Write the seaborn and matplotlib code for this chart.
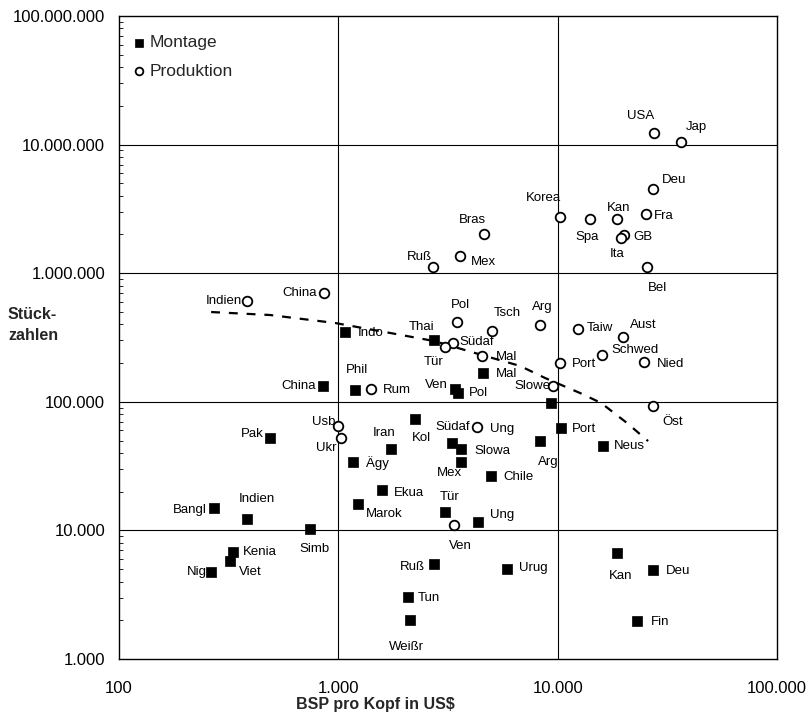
import numpy as np
import pandas as pd
import matplotlib
matplotlib.use("Agg")
import matplotlib.pyplot as plt
import matplotlib.ticker as mticker
import seaborn as sns

# ---------------- data ----------------
mont_names = ["China", "Indo", "Thai", "Mal", "Ven", "Pol", "Phil", "", "Port", "Neus",
              "Arg", "Kan", "Deu", "Fin", "Pak", "Bangl", "Indien", "Simb", "Kenia", "Viet",
              "Nig", "Kol", "Iran", "Ägy", "Südaf", "Slowa", "Mex", "Chile", "Ekua", "Marok",
              "Tür", "Ung", "Ruß", "Urug", "Tun", "Weißr"]
mont_bsp = [855, 1073, 2740, 4580, 3400, 3530, 1190, 9330, 10330, 16150,
            8310, 18700, 27300, 23080, 488, 271, 385, 743, 332, 321,
            262, 2240, 1740, 1170, 3310, 3630, 3610, 4970, 1580, 1225,
            3070, 4320, 2740, 5860, 2070, 2120]
mont_stk = [133000, 351000, 303000, 167000, 125000, 118000, 124000, 97500, 63000, 45300,
            49500, 6710, 4920, 1990, 52000, 14900, 12300, 10200, 6830, 5810,
            4770, 73100, 42700, 34200, 47500, 42700, 34200, 26500, 20600, 16000,
            14000, 11700, 5480, 4990, 3020, 2010]

prod_names = ["USA", "Jap", "Deu", "Korea", "Spa", "Kan", "Fra", "GB", "Ita", "Bras",
              "Mex", "Ruß", "Bel", "Indien", "China", "Pol", "Tsch", "Arg", "Südaf", "Tür",
              "Mal", "Slowe", "Port", "Taiw", "Aust", "Schwed", "Nied", "Öst", "Usb", "Ukr",
              "Rum", "Ung", "Ven"]
prod_bsp = [27500, 36400, 27150, 10250, 14060, 18600, 25230, 20140, 19400, 4630,
            3590, 2690, 25470, 385, 861, 3480, 5040, 8310, 3320, 3070,
            4540, 9530, 10250, 12350, 19940, 15880, 24850, 27150, 1000, 1025,
            1405, 4290, 3370]
prod_stk = [12200000, 10400000, 4490000, 2750000, 2620000, 2620000, 2870000, 1980000, 1870000, 2000000,
            1370000, 1120000, 1110000, 611000, 698000, 415000, 357000, 395000, 288000, 268000,
            228000, 133000, 199000, 366000, 321000, 231000, 203000, 92700, 64900, 52600,
            126000, 64000, 11000]

trend_bsp = [263, 488, 966, 1722, 2730, 4520, 6740, 8770, 12650, 15770, 20710, 25840]
trend_stk = [499000, 473000, 410000, 343000, 297000, 231000, 190000, 153000, 117000, 98000, 68400, 49500]

y_ticks = [1000, 10000, 100000, 1000000, 10000000, 100000000]
x_ticks = [100, 1000, 10000, 100000]

# ---------------- label layout (pixel offsets dx, dy-down, alignment) ----------------
mont_off = [(-8, 0, "right"), (13, 1, "left"), (-13, -13, "center"), (13, 1, "left"),
            (-7, -4, "right"), (10, 0, "left"), (2, -20, "center"), (0, 0, "left"),
            (11, 1, "left"), (11, 0, "left"), (8, 21, "center"), (3, 23, "center"),
            (13, 1, "left"), (14, 1, "left"), (-6, -4, "right"), (-7, 2, "right"),
            (9, -20, "center"), (4, 20, "center"), (10, 0, "left"), (9, 11, "left"),
            (-4, 0, "right"), (6, 19, "center"), (-7, -16, "center"), (13, 1, "left"),
            (0, -16, "center"), (13, 2, "left"), (-11, 11, "center"), (12, 1, "left"),
            (12, 3, "left"), (8, 10, "left"), (4, -15, "center"), (12, -7, "left"),
            (-9, 3, "right"), (12, -1, "left"), (10, 1, "left"), (-3, 27, "center")]
prod_off = [(-13, -17, "center"), (5, -15, "left"), (9, -9, "left"), (1, -19, "right"),
            (-3, 18, "center"), (2, -11, "center"), (8, 2, "left"), (9, 2, "left"),
            (-4, 16, "center"), (-12, -14, "center"), (11, 6, "left"), (-13, -10, "center"),
            (11, 21, "center"), (-5, 0, "right"), (-7, 0, "right"), (3, -17, "center"),
            (15, -18, "center"), (2, -18, "center"), (7, -1, "left"), (-12, 15, "center"),
            (13, 1, "left"), (-3, 0, "right"), (12, 1, "left"), (9, -1, "left"),
            (7, -12, "left"), (10, -5, "left"), (13, 2, "left"), (10, 16, "left"),
            (-3, -4, "right"), (-4, 10, "right"), (12, 1, "left"), (13, 2, "left"),
            (6, 21, "center")]

mont = pd.DataFrame({"name": mont_names, "bsp": mont_bsp, "stk": mont_stk})
prod = pd.DataFrame({"name": prod_names, "bsp": prod_bsp, "stk": prod_stk})
trend = pd.DataFrame({"bsp": trend_bsp, "stk": trend_stk})

sns.set_theme(style="white")
plt.rcParams["font.family"] = ["Liberation Sans", "DejaVu Sans"]

W, H = 809, 716
fig = plt.figure(figsize=(W / 100, H / 100), dpi=100)
ax = fig.add_axes([119 / W, 1 - 659 / H, (777 - 119) / W, (659 - 16) / H])

ax.set_xscale("log")
ax.set_yscale("log")
ax.set_xlim(100, 100000)
ax.set_ylim(1000, 100000000)

for v in x_ticks[1:-1]:
    ax.axvline(v, color="black", lw=0.8, zorder=1)
for v in y_ticks[1:-1]:
    ax.axhline(v, color="black", lw=0.8, zorder=1)

sns.lineplot(data=trend, x="bsp", y="stk", sort=False, ax=ax, color="black",
             lw=1.6, linestyle=(0, (4, 4)), zorder=2)

sns.scatterplot(data=mont, x="bsp", y="stk", ax=ax, marker="s", s=48,
                color="black", edgecolor="black", linewidth=0.5, zorder=3,
                label="Montage")
sns.scatterplot(data=prod, x="bsp", y="stk", ax=ax, marker="o", s=48,
                facecolor="white", edgecolor="black", linewidth=1.3, zorder=3,
                label="Produktion")

for df, offs in ((mont, mont_off), (prod, prod_off)):
    for (_, r), (dx, dy, ha) in zip(df.iterrows(), offs):
        if not r["name"]:
            continue
        ax.annotate(r["name"], (r["bsp"], r["stk"]), xytext=(dx, -dy),
                    textcoords="offset pixels", ha=ha, va="center",
                    fontsize=9.5, color="black", zorder=4)

fmt = mticker.FuncFormatter(lambda v, p: f"{int(round(v)):,}".replace(",", "."))
ax.xaxis.set_major_locator(mticker.FixedLocator(x_ticks))
ax.yaxis.set_major_locator(mticker.FixedLocator(y_ticks))
ax.xaxis.set_major_formatter(fmt)
ax.yaxis.set_major_formatter(fmt)
ax.xaxis.set_minor_locator(mticker.NullLocator())
ax.yaxis.set_minor_locator(mticker.LogLocator(base=10, subs=np.arange(2, 10)))
ax.yaxis.set_minor_formatter(mticker.NullFormatter())
ax.tick_params(axis="x", which="major", length=0, pad=16, labelsize=12, colors="black")
ax.tick_params(axis="y", which="major", length=0, pad=10, labelsize=12, colors="black")
ax.tick_params(axis="y", which="minor", direction="in", length=3, width=0.6, left=True,
               color="black")
ax.set_xlabel("")
ax.set_ylabel("")
for sp in ax.spines.values():
    sp.set_color("black")
    sp.set_linewidth(1.0)

fig.text(375 / W, 1 - 705 / H, "BSP pro Kopf in US$", ha="center", va="center",
         fontsize=11.5, fontweight="bold")
fig.text(8 / W, 1 - 325 / H, "Stück-\nzahlen", ha="left", va="center",
         fontsize=11.5, fontweight="bold", linespacing=1.5)

leg = ax.legend(loc="upper left", bbox_to_anchor=(-0.012, 0.997), frameon=False,
                fontsize=12.5, handletextpad=0.0, markerscale=0.8,
                borderaxespad=0.6, labelspacing=0.75, handlelength=1.2)

fig.savefig("out.png", dpi=100)
